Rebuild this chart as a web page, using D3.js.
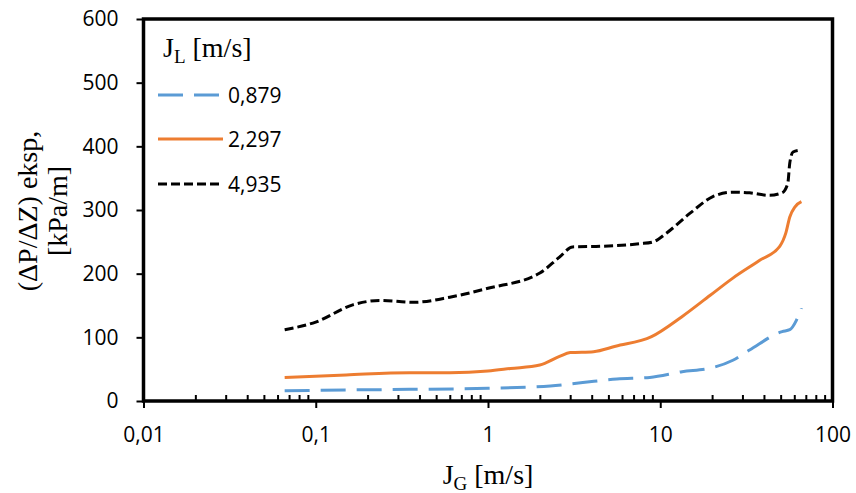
<!DOCTYPE html>
<html>
<head>
<meta charset="utf-8">
<script src="https://cdn.jsdelivr.net/npm/d3@7"></script>
<style>
  body { margin: 0; background: #fff; }
  svg { display: block; }
</style>
</head>
<body>
<div id="wrapper"></div>
<script>
// series labels (J_L values) and colours
const seriesNames = ["0,879", "2,297", "4,935"];

// J_L = 0,879
const jgBlue = [0.066, 0.15, 0.35, 1.0, 2.3, 3.55, 5.6, 8.7, 13.4, 19.5, 26.4, 33, 51, 56.5, 61.8, 66];
const dpBlue = [16, 17.3, 18.3, 20, 23.6, 29, 34.6, 37, 46, 51.5, 64, 80, 109, 112, 127, 146];

// J_L = 2,297
const jgOrange = [0.066, 0.15, 0.35, 0.6, 1.0, 1.35, 2.0, 2.6, 3.0, 4.1, 5.5, 8.9, 13.3, 19.5, 26.4, 37.8, 49.4, 53.6, 56.5, 60.6, 66];
const dpOrange = [37, 41, 44.5, 44.5, 47, 51, 56.5, 70, 76, 77.5, 86, 101, 132, 166, 193, 221, 243, 264, 289, 305, 313];

// J_L = 4,935
const jgBlack = [0.066, 0.1, 0.164, 0.235, 0.37, 0.6, 1.0, 2.0, 2.6, 3.1, 4.5, 7.6, 9.1, 10.9, 14.9, 20.2, 26.4, 33, 43, 51, 55, 56.5, 59, 64.6];
const dpBlack = [112, 124, 151, 158, 155, 163, 177, 201, 226, 242, 243, 247, 250, 264, 295, 321, 328, 327, 323, 327, 342, 374, 391, 394];

const xTicks = [0.01, 0.1, 1, 10, 100];
const yTicks = [0, 100, 200, 300, 400, 500, 600];

const width = 856;
const height = 493;
const plot = { left: 143.5, right: 832.5, top: 19, bottom: 401 };

const series = [
  { name: seriesNames[0], jg: jgBlue, dp: dpBlue, color: "#5B9BD5", dash: "25,11" },
  { name: seriesNames[1], jg: jgOrange, dp: dpOrange, color: "#ED7D31", dash: null },
  { name: seriesNames[2], jg: jgBlack, dp: dpBlack, color: "#000000", dash: "9,4" },
];

const svg = d3
  .select("#wrapper")
  .append("svg")
  .attr("width", width)
  .attr("height", height);

const xScale = d3.scaleLog().domain([0.01, 100]).range([plot.left, plot.right]);
const yScale = d3.scaleLinear().domain([0, 600]).range([plot.bottom, plot.top]);

const tickFont = "'Open Sans', sans-serif";
const serifFont = "'Liberation Serif', 'Times New Roman', serif";

// y axis
const yAxis = svg
  .append("g")
  .attr("transform", `translate(${plot.left},0)`)
  .call(d3.axisLeft(yScale).tickValues(yTicks).tickSize(7).tickPadding(18));
yAxis.select(".domain").remove();
yAxis.selectAll("line").attr("stroke", "#000").attr("stroke-width", 2);
yAxis
  .selectAll("text")
  .style("font-family", tickFont)
  .style("font-size", "21px")
  .attr("fill", "#000");

// x axis, major ticks pointing out
const xAxis = svg
  .append("g")
  .attr("transform", `translate(0,${plot.bottom})`)
  .call(
    d3
      .axisBottom(xScale)
      .tickValues(xTicks)
      .tickSize(7)
      .tickPadding(19)
      .tickFormat((d) => String(d).replace(".", ","))
  );
xAxis.select(".domain").remove();
xAxis.selectAll("line").attr("stroke", "#000").attr("stroke-width", 2);
xAxis
  .selectAll("text")
  .style("font-family", tickFont)
  .style("font-size", "21px")
  .attr("fill", "#000");

// minor ticks pointing in
const minorTicks = [];
[0.01, 0.1, 1, 10].forEach((dec) => {
  for (let k = 2; k <= 9; k++) minorTicks.push(dec * k);
});
const xMinor = svg
  .append("g")
  .attr("transform", `translate(0,${plot.bottom})`)
  .call(d3.axisTop(xScale).tickValues(minorTicks).tickSize(6).tickFormat(""));
xMinor.select(".domain").remove();
xMinor.selectAll("line").attr("stroke", "#000").attr("stroke-width", 2);

// plot frame
svg
  .append("rect")
  .attr("x", plot.left)
  .attr("y", plot.top)
  .attr("width", plot.right - plot.left)
  .attr("height", plot.bottom - plot.top)
  .attr("fill", "none")
  .attr("stroke", "#000")
  .attr("stroke-width", 3.5);

// lines
const lineGenerator = d3
  .line()
  .curve(d3.curveMonotoneX)
  .x((d) => xScale(d[0]))
  .y((d) => yScale(d[1]));

series.forEach((s) => {
  const pts = s.jg.map((v, i) => [v, s.dp[i]]);
  svg
    .append("path")
    .attr("d", lineGenerator(pts))
    .attr("fill", "none")
    .attr("stroke", s.color)
    .attr("stroke-width", 3)
    .attr("stroke-dasharray", s.dash);
});

// legend
const legendTitle = svg
  .append("text")
  .attr("x", 163)
  .attr("y", 57)
  .style("font-family", serifFont)
  .style("font-size", "28px")
  .attr("fill", "#000");
legendTitle.append("tspan").text("J");
legendTitle.append("tspan").attr("dy", 6).style("font-size", "19px").text("L");
legendTitle.append("tspan").attr("dy", -6).text(" [m/s]");

const legendY = [95, 139, 184];
series.forEach((s, i) => {
  svg
    .append("line")
    .attr("x1", 158)
    .attr("x2", 223)
    .attr("y1", legendY[i])
    .attr("y2", legendY[i])
    .attr("stroke", s.color)
    .attr("stroke-width", 3)
    .attr("stroke-dasharray", s.dash);
  svg
    .append("text")
    .attr("x", 228)
    .attr("y", legendY[i])
    .attr("dy", "0.36em")
    .style("font-family", tickFont)
    .style("font-size", "21px")
    .attr("fill", "#000")
    .text(s.name);
});

// x axis title
const xTitle = svg
  .append("text")
  .attr("x", 488)
  .attr("y", 484)
  .attr("text-anchor", "middle")
  .style("font-family", serifFont)
  .style("font-size", "28px")
  .attr("fill", "#000");
xTitle.append("tspan").text("J");
xTitle.append("tspan").attr("dy", 6).style("font-size", "19px").text("G");
xTitle.append("tspan").attr("dy", -6).text(" [m/s]");

// y axis title, two lines
const yTitle = svg
  .append("text")
  .attr("transform", "translate(37,211) rotate(-90)")
  .attr("text-anchor", "middle")
  .style("font-family", serifFont)
  .style("font-size", "28px")
  .attr("fill", "#000");
yTitle.append("tspan").attr("x", 0).attr("y", 0).text("(ΔP/ΔZ) eksp,");
yTitle.append("tspan").attr("x", 0).attr("y", 30).text("[kPa/m]");
</script>
</body>
</html>
